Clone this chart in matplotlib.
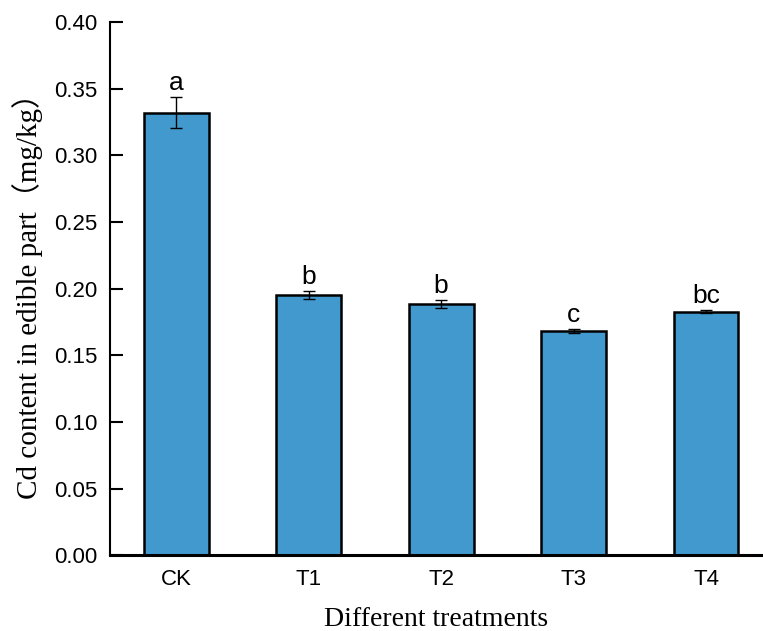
import matplotlib
matplotlib.use("Agg")
import matplotlib.pyplot as plt

categories = ["CK", "T1", "T2", "T3", "T4"]
values = [0.332, 0.195, 0.1885, 0.168, 0.1828]
errors = [0.0115, 0.003, 0.0027, 0.0015, 0.0010]
letters = ["a", "b", "b", "c", "bc"]
yticks = [0.00, 0.05, 0.10, 0.15, 0.20, 0.25, 0.30, 0.35, 0.40]

fig = plt.figure(figsize=(7.63, 6.31), dpi=100)
ax = fig.add_axes([0.144, 0.120, 0.856, 0.845])

x = list(range(len(categories)))
ax.bar(x, values, width=0.49, color="#4199CE", edgecolor="black", linewidth=1.8, zorder=2)
ax.errorbar(x, values, yerr=errors, fmt="none", ecolor="black", elinewidth=1.0,
            capsize=4.5, capthick=1.0, zorder=3)
for xi, v, e, l in zip(x, values, errors, letters):
    ax.text(xi, v + e + 0.002, l, ha="center", va="bottom",
            fontsize=19, family="Liberation Sans")

ax.set_xlim(-0.5, 4.43)
ax.set_ylim(0, 0.40)
ax.set_yticks(yticks)
ax.set_yticklabels([f"{t:.2f}" for t in yticks], family="Liberation Sans", fontsize=16)
ax.set_xticks(x)
ax.set_xticklabels(categories, family="Liberation Sans", fontsize=16)
ax.tick_params(axis="y", direction="in", length=9, width=1.5, pad=9)
ax.tick_params(axis="x", length=0, pad=10)

for s in ["top", "right"]:
    ax.spines[s].set_visible(False)
ax.spines["left"].set_linewidth(1.5)
ax.spines["bottom"].set_linewidth(2.2)

ax.set_xlabel("Different treatments", family=["Liberation Serif", "Noto Sans CJK SC"],
              fontsize=20, labelpad=12)
ax.set_ylabel("Cd content in edible part（mg/kg）", family=["Liberation Serif", "Noto Sans CJK SC"],
              fontsize=21, labelpad=8)

fig.savefig("out.png", dpi=100)
